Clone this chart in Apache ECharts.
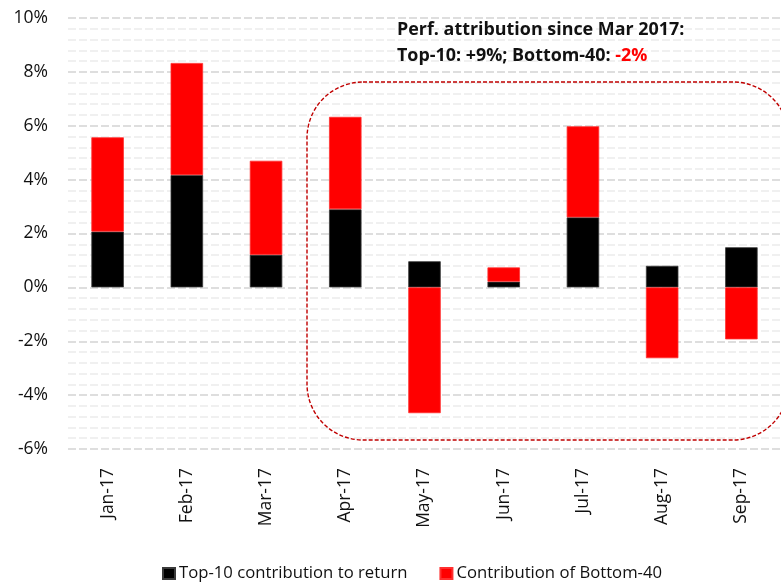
<!DOCTYPE html>
<html>
<head>
<meta charset="utf-8">
<script src="https://cdn.jsdelivr.net/npm/echarts@6/dist/echarts.min.js"></script>
<style>
  html, body { margin: 0; padding: 0; background: #ffffff; }
  #chart { width: 781px; height: 582px; }
</style>
</head>
<body>
<div id="chart"></div>
<script>
// Monthly performance attribution, 2017
const months = ['Jan-17', 'Feb-17', 'Mar-17', 'Apr-17', 'May-17', 'Jun-17', 'Jul-17', 'Aug-17', 'Sep-17'];
const top10 = [2.07, 4.17, 1.21, 2.90, 0.97, 0.21, 2.60, 0.80, 1.49];
const bottom40 = [3.50, 4.16, 3.49, 3.43, -4.67, 0.53, 3.38, -2.63, -1.93];
const seriesNames = ['Top-10 contribution to return', 'Contribution of Bottom-40'];
const yTicks = { min: -6, max: 10, step: 2 };

const FONT = '"Open Sans", Lato, sans-serif';

const chart = echarts.init(document.getElementById('chart'), null, { renderer: 'canvas' });

chart.setOption({
  animation: false,
  backgroundColor: '#ffffff',
  textStyle: { fontFamily: FONT },
  grid: { left: 68, right: -10, top: 18, bottom: 133, containLabel: false },
  legend: {
    left: 162,
    top: 565,
    padding: 0,
    icon: 'rect',
    itemWidth: 12,
    itemHeight: 11,
    itemGap: 32,
    textStyle: { fontFamily: FONT, fontSize: 16.7, color: '#111', padding: [0, 0, 0, -1] },
    data: seriesNames
  },
  xAxis: {
    type: 'category',
    data: months,
    axisLine: { show: false },
    axisTick: { show: false },
    axisLabel: { rotate: 90, margin: 19, fontSize: 17.5, color: '#111', fontFamily: FONT }
  },
  yAxis: {
    type: 'value',
    min: yTicks.min,
    max: yTicks.max,
    interval: yTicks.step,
    axisLine: { show: false },
    axisTick: { show: false },
    axisLabel: { formatter: v => v + '%', fontSize: 17.5, color: '#111', margin: 20, fontFamily: FONT },
    splitLine: { lineStyle: { color: '#d4d4d4', width: 1.5, type: [8, 3] } },
    minorTick: { show: false, splitNumber: 5 },
    minorSplitLine: { show: true, lineStyle: { color: '#ebebeb', width: 1.5, type: [8, 3] } }
  },
  series: [
    {
      name: seriesNames[0],
      type: 'bar',
      stack: 'attr',
      barWidth: '41%',
      data: top10,
      itemStyle: { color: '#000000', borderColor: '#3a3a3a', borderWidth: 0.8 }
    },
    {
      name: seriesNames[1],
      type: 'bar',
      stack: 'attr',
      barWidth: '41%',
      data: bottom40,
      itemStyle: { color: '#ff0000', borderColor: '#ff3030', borderWidth: 0.8 }
    }
  ],
  graphic: [
    {
      type: 'rect',
      z: 10,
      shape: { x: 307, y: 82, width: 482, height: 358, r: 56 },
      style: { fill: 'none', stroke: '#c00000', lineWidth: 1.4, lineDash: [4, 2] },
      silent: true
    },
    {
      type: 'text',
      z: 10,
      left: 397,
      top: 21,
      style: {
        text: '{b|Perf. attribution since Mar 2017:}\n{b|Top-10: +9%; Bottom-40: }{r|-2%}',
        rich: {
          b: { fontFamily: FONT, fontSize: 17.9, fontWeight: 'bold', fill: '#111', lineHeight: 26 },
          r: { fontFamily: FONT, fontSize: 17.9, fontWeight: 'bold', fill: '#ff0000', lineHeight: 26 }
        }
      }
    }
  ]
});
</script>
</body>
</html>
